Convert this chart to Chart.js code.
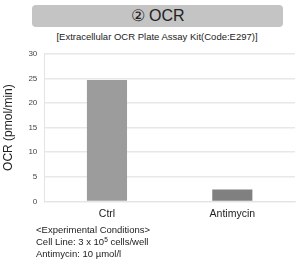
<!DOCTYPE html>
<html>
<head>
<meta charset="utf-8">
<script src="https://cdn.jsdelivr.net/npm/chart.js@4"></script>
<style>
  body { margin: 0; width: 300px; height: 273px; background: #fff; position: relative; overflow: hidden;
         font-family: "Liberation Sans", Arial, sans-serif; color: #222; }
  #head { position: absolute; left: 32px; top: 5px; width: 251px; height: 22px; background: #c4c4c4;
          border-radius: 4px; text-align: center; font-size: 16px; line-height: 22px; color: #222; }
  #sub { position: absolute; left: 0; width: 314px; top: 31px; text-align: center; font-size: 9.5px; color: #222; }
  #ocr_chart { position: absolute; left: 0; top: 42px; }
  #notes { position: absolute; left: 36px; top: 224px; font-size: 9.5px; line-height: 12px; color: #222; }
  sup { font-size: 6.5px; vertical-align: 3px; line-height: 0; }
</style>
</head>
<body>
<div id="head">② OCR</div>
<div id="sub">[Extracellular OCR Plate Assay Kit(Code:E297)]</div>
<canvas id="ocr_chart" width="300" height="184"></canvas>
<div id="notes">&lt;Experimental Conditions&gt;<br>Cell Line: 3 x 10<sup>5</sup> cells/well<br>Antimycin: 10 µmol/l</div>
<script>
// bar colours: Ctrl light gray, Antimycin darker gray
const categories = ["Ctrl", "Antimycin"];
const ocrValues = [24.7, 2.4];
const barColors = ["#9c9c9c", "#808080"];
const yTicks = [0, 5, 10, 15, 20, 25, 30];

const ocrChart = new Chart(document.getElementById("ocr_chart"), {
    type: "bar",
    data: {
        labels: categories,
        datasets: [{
            data: ocrValues,
            backgroundColor: barColors,
            categoryPercentage: 1,
            barPercentage: 0.32
        }]
    },
    options: {
        responsive: false,
        animation: false,
        devicePixelRatio: 1,
        layout: { padding: { top: 6, right: 5, left: 1, bottom: 0 } },
        plugins: { legend: { display: false }, tooltip: { enabled: false } },
        scales: {
            x: {
                grid: { display: false, drawTicks: false },
                border: { color: "#e4e4e4" },
                ticks: {
                    color: "#222",
                    font: { family: "Liberation Sans", size: 10.5 },
                    padding: 6
                }
            },
            y: {
                min: 0,
                max: 30,
                afterBuildTicks: axis => { axis.ticks = yTicks.map(v => ({ value: v })); },
                grid: { color: "#e8e8e8", lineWidth: 1.5, drawTicks: false },
                border: { color: "#e4e4e4" },
                ticks: {
                    color: "#444",
                    font: { family: "Liberation Sans", size: 8 },
                    padding: 7
                },
                title: {
                    display: true,
                    text: "OCR (pmol/min)",
                    color: "#222",
                    font: { family: "Liberation Sans", size: 12 },
                    padding: { top: 0, bottom: 6 }
                }
            }
        }
    }
});
</script>
</body>
</html>
